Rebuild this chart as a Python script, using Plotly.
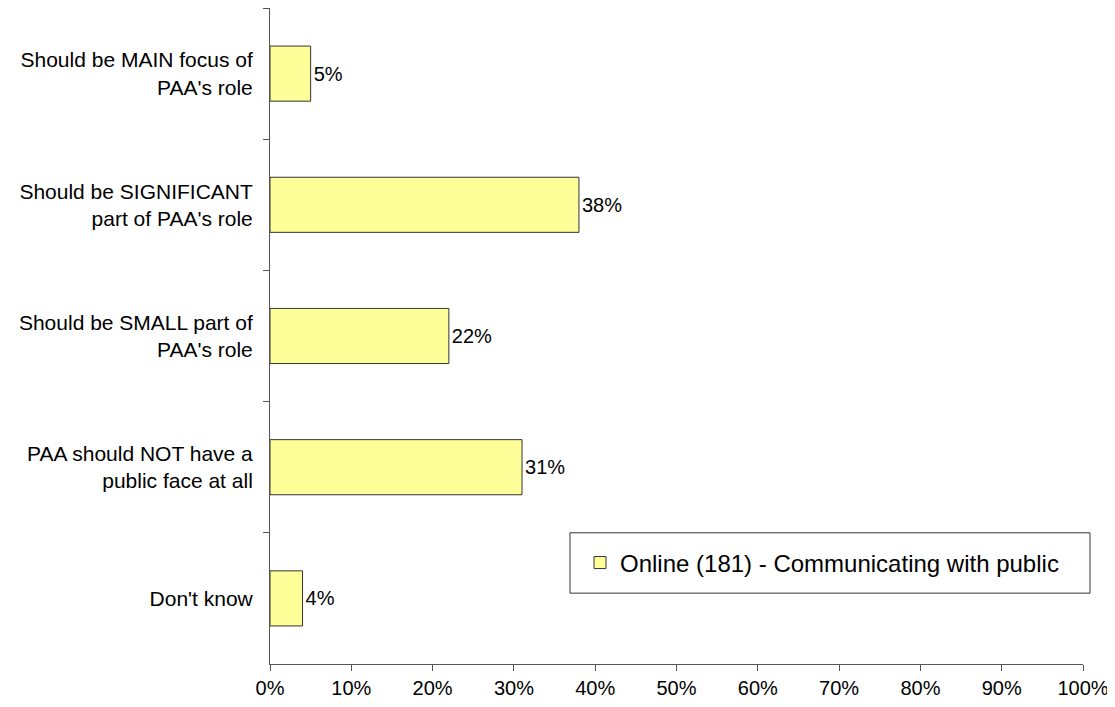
import plotly.graph_objects as go

categories = [
    "Should be MAIN focus of<br>PAA's role",
    "Should be SIGNIFICANT<br>part of PAA's role",
    "Should be SMALL part of<br>PAA's role",
    "PAA should NOT have a<br>public face at all",
    "Don't know",
]
values = [5, 38, 22, 31, 4]
series_name = "Online (181) - Communicating with public"
x_ticks = [0, 10, 20, 30, 40, 50, 60, 70, 80, 90, 100]

fig = go.Figure()
fig.add_trace(go.Bar(
    y=categories,
    x=values,
    orientation="h",
    name=series_name,
    width=0.42,
    marker=dict(color="#FFFF99", line=dict(color="#333333", width=1)),
    text=[f"{v}%" for v in values],
    textposition="outside",
    textfont=dict(size=20, color="black"),
    cliponaxis=False,
    showlegend=True,
))

font = "Liberation Sans, Arial, sans-serif"
# the page body has an 8px margin, so the figure is a bit smaller than the window
fig.update_layout(
    width=1107,
    height=691,
    margin=dict(l=262, r=32, t=0, b=35),
    plot_bgcolor="white",
    paper_bgcolor="white",
    font=dict(family=font, size=18, color="black"),
    bargap=0.58,
    xaxis=dict(
        range=[0, 100],
        tickvals=x_ticks,
        ticktext=[f"{t}%" for t in x_ticks],
        ticks="outside",
        ticklen=6,
        tickcolor="#555555",
        showline=True,
        linecolor="#555555",
        showgrid=False,
        zeroline=False,
        tickfont=dict(size=20),
        ticklabeloverflow="allow",
    ),
    yaxis=dict(
        autorange="reversed",
        ticks="outside",
        tickson="boundaries",
        ticklen=6,
        tickcolor="#555555",
        showline=True,
        linecolor="#555555",
        showgrid=False,
        tickfont=dict(size=21),
        ticklabelstandoff=12,
    ),
    legend=dict(
        x=0.679, y=0.154,
        xanchor="center", yanchor="middle",
        bgcolor="rgba(0,0,0,0)",
        font=dict(size=24),
        itemwidth=30,
    ),
    shapes=[dict(
        type="rect", xref="paper", yref="paper",
        x0=0.369, x1=1.0086, y0=0.108, y1=0.2,
        line=dict(color="#333333", width=1),
        fillcolor="white", layer="below",
    )],
)

fig.write_html("out.html")
